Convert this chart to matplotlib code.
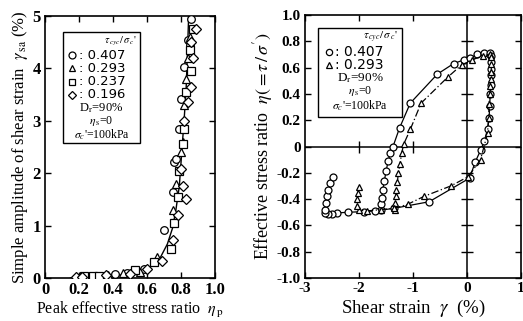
import matplotlib
matplotlib.use("Agg")
import matplotlib.pyplot as plt

plt.rcParams['font.family'] = ['Liberation Serif', 'DejaVu Serif']
plt.rcParams['mathtext.fontset'] = 'stix'

# ---------------- Left panel data ----------------
c407_x = [0.21, 0.26, 0.33, 0.41, 0.48, 0.58, 0.70, 0.74, 0.75, 0.76, 0.77, 0.79, 0.80, 0.82, 0.84, 0.86, 0.85]
c407_y = [0.02, 0.03, 0.04, 0.07, 0.10, 0.18, 0.92, 0.55, 1.65, 2.22, 2.27, 2.85, 3.42, 4.02, 4.55, 4.95, 4.45]
t293_x = [0.24, 0.30, 0.37, 0.46, 0.56, 0.66, 0.75, 0.77, 0.80, 0.82, 0.81, 0.83, 0.84, 0.855]
t293_y = [0.02, 0.03, 0.05, 0.10, 0.12, 0.40, 1.30, 1.80, 2.40, 3.30, 2.60, 3.80, 4.20, 4.60]
s237_x = [0.23, 0.28, 0.32, 0.53, 0.64, 0.74, 0.76, 0.78, 0.79, 0.81, 0.82, 0.83, 0.85, 0.87, 0.86]
s237_y = [0.03, 0.04, 0.04, 0.15, 0.30, 0.55, 1.05, 1.55, 2.05, 2.55, 2.85, 3.55, 4.35, 4.75, 3.95]
d196_x = [0.18, 0.22, 0.36, 0.50, 0.60, 0.69, 0.75, 0.78, 0.81, 0.80, 0.82, 0.84, 0.86, 0.87, 0.89, 0.86, 0.83]
d196_y = [0.02, 0.02, 0.06, 0.08, 0.18, 0.32, 0.72, 1.20, 1.75, 2.08, 3.00, 3.35, 3.65, 4.20, 4.75, 4.50, 1.50]
curve_x = [0.15, 0.30, 0.45, 0.55, 0.62, 0.68, 0.72, 0.75, 0.77, 0.79, 0.80, 0.81, 0.82, 0.83, 0.835, 0.84, 0.845]
curve_y = [0.00, 0.02, 0.06, 0.12, 0.22, 0.40, 0.65, 0.95, 1.30, 1.75, 2.20, 2.65, 3.10, 3.60, 4.05, 4.50, 5.00]

# ---------------- Right panel data ----------------
path407_x = [-1.60, -1.60, -1.58, -1.56, -1.53, -1.50, -1.46, -1.42, -1.37, -1.25, -1.05, -0.55, -0.25,
             -0.05, 0.05, 0.18, 0.32, 0.43, 0.45, 0.45, 0.45, 0.45, 0.44, 0.43, 0.42, 0.41, 0.38, 0.32,
             0.25, 0.15, 0.05, -0.70, -1.35, -1.70, -1.90, -2.20, -2.40, -2.50, -2.58, -2.63, -2.63,
             -2.62, -2.60, -2.57, -2.53, -2.48]
path407_y = [-0.48, -0.44, -0.39, -0.33, -0.26, -0.19, -0.11, -0.05, 0.00, 0.14, 0.33, 0.55, 0.63,
             0.66, 0.67, 0.70, 0.71, 0.71, 0.69, 0.64, 0.59, 0.54, 0.47, 0.40, 0.31, 0.22, 0.13, 0.04,
             -0.03, -0.12, -0.24, -0.42, -0.47, -0.49, -0.495, -0.50, -0.505, -0.51, -0.515, -0.505, -0.48,
             -0.43, -0.38, -0.33, -0.28, -0.23]
path293_x = [-1.34, -1.33, -1.32, -1.31, -1.29, -1.27, -1.24, -1.21, -1.17, -1.05, -0.85, -0.35, -0.10,
             0.10, 0.30, 0.43, 0.45, 0.45, 0.45, 0.44, 0.43, 0.42, 0.41, 0.40, 0.38, 0.25, 0.02, -0.30,
             -0.80, -1.10, -1.35, -1.60, -1.85, -2.00, -2.03, -2.03, -2.02, -2.00]
path293_y = [-0.48, -0.43, -0.38, -0.33, -0.27, -0.20, -0.13, -0.05, 0.02, 0.13, 0.33, 0.53, 0.62,
             0.66, 0.69, 0.70, 0.68, 0.63, 0.57, 0.51, 0.46, 0.40, 0.32, 0.22, 0.10, -0.10, -0.23, -0.30,
             -0.38, -0.44, -0.47, -0.48, -0.49, -0.485, -0.45, -0.40, -0.35, -0.31]

legend_markers = ['o', '^', 's', 'D']
legend_values = ['0.407', '0.293', '0.237', '0.196']
legend_extra = [r"D$_\mathrm{r}$=90%", r"$\eta_{\,\mathrm{s}}$=0", r"$\sigma_{c}$'=100kPa"]
legend_title = r"$\tau_{\,cyc}/\,\sigma_{\,c}$'"

fig = plt.figure(figsize=(5.23, 3.21), dpi=100)
sans = ['DejaVu Sans']

# ---------------- Left panel ----------------
ax1 = fig.add_axes([45/523, 1-278/321, 170/523, 262/321])
mk = dict(mfc='white', mec='black', mew=0.9, ms=5.5, ls='none')
ax1.plot(curve_x, curve_y, color='black', lw=1.0, zorder=2)
ax1.plot(c407_x, c407_y, marker='o', zorder=3, **mk)
ax1.plot(t293_x, t293_y, marker='^', zorder=3, **mk)
ax1.plot(s237_x, s237_y, marker='s', zorder=3, **mk)
ax1.plot(d196_x, d196_y, marker='D', zorder=3, **{**mk, 'ms': 5})
ax1.set_xlim(0, 1.0)
ax1.set_ylim(0, 5)
ax1.set_xticks([0, 0.2, 0.4, 0.6, 0.8, 1.0])
ax1.set_xticklabels(['0', '0.2', '0.4', '0.6', '0.8', '1.0'])
ax1.set_yticks([0, 1, 2, 3, 4, 5])
ax1.tick_params(direction='in', top=True, right=True, length=4, width=1.0,
                labelsize=12, pad=3)
for lab in ax1.get_xticklabels() + ax1.get_yticklabels():
    lab.set_fontweight('bold')
for s in ax1.spines.values():
    s.set_linewidth(1.2)
ax1.set_xlabel(r'Peak effective stress ratio  $\eta_{\,\mathrm{p}}$', fontsize=11.5, labelpad=1)
ax1.set_ylabel(r'Simple amplitude of shear strain  $\gamma_{\,\mathrm{sa}}$ (%)', fontsize=12, labelpad=2)

# legend box (left)
ax1.add_patch(plt.Rectangle((0.106, 0.515), 0.454, 0.424, transform=ax1.transAxes,
                            fill=True, fc='white', ec='black', lw=1.0, zorder=4))
ax1.text(0.54, 0.902, legend_title, transform=ax1.transAxes, ha='right', va='center',
         fontsize=7.5, zorder=5)
row_y1 = [0.851, 0.800, 0.750, 0.700]
for m, v, yy in zip(legend_markers, legend_values, row_y1):
    ax1.plot([0.16], [yy], marker=m, transform=ax1.transAxes, zorder=5, clip_on=False,
             mfc='white', mec='black', mew=0.9, ms=5 if m != 'D' else 4.5, ls='none')
    ax1.text(0.2, yy, ': ' + v, transform=ax1.transAxes, ha='left', va='center',
             fontsize=9.5, zorder=5, family=sans)
for t, yy in zip(legend_extra, [0.650, 0.600, 0.546]):
    ax1.text(0.333, yy, t, transform=ax1.transAxes, ha='center', va='center',
             fontsize=9 if '%' in t else 8.5, zorder=5)

# ---------------- Right panel ----------------
ax2 = fig.add_axes([305/523, 1-278/321, 216/523, 263/321])
ax2.axhline(0, color='black', lw=1.1, zorder=1)
ax2.axvline(0, color='black', lw=1.1, zorder=1)
ax2.plot([-2, -1], [0, 0], marker='|', color='black', ms=8, mew=1.0, ls='none', zorder=1)
yt_inner = [-0.8, -0.6, -0.4, -0.2, 0.2, 0.4, 0.6, 0.8]
ax2.plot([0] * len(yt_inner), yt_inner, marker='_', color='black', ms=8, mew=1.0, ls='none', zorder=1)
ax2.plot(path407_x, path407_y, color='black', lw=0.9, marker='o', mfc='white', mec='black',
         mew=0.9, ms=5, zorder=3)
ax2.plot(path293_x, path293_y, color='black', lw=0.9, ls=(0, (6, 2, 1, 2)), marker='^', mfc='white',
         mec='black', mew=0.9, ms=5, zorder=3)
ax2.set_xlim(-3, 1)
ax2.set_ylim(-1.0, 1.0)
ax2.set_xticks([-3, -2, -1, 0, 1])
ax2.set_xticklabels(['-3', '-2', '-1', '0', '1'])
yt = [-1.0, -0.8, -0.6, -0.4, -0.2, 0, 0.2, 0.4, 0.6, 0.8, 1.0]
ax2.set_yticks(yt)
ax2.set_yticklabels(['-1.0', '-0.8', '-0.6', '-0.4', '-0.2', '0', '0.2', '0.4', '0.6', '0.8', '1.0'])
ax2.tick_params(direction='in', top=True, right=True, length=4, width=1.0, labelsize=11, pad=3)
for lab in ax2.get_xticklabels() + ax2.get_yticklabels():
    lab.set_fontweight('bold')
for s in ax2.spines.values():
    s.set_linewidth(1.2)
ax2.set_xlabel(r'Shear strain  $\gamma$  (%)', fontsize=13.5, labelpad=2)
ax2.set_ylabel(r"Effective stress ratio  $\eta(=\tau\,/\,\sigma')$", fontsize=13, labelpad=1)

# legend box (right)
ax2.add_patch(plt.Rectangle((0.06, 0.612), 0.389, 0.339, transform=ax2.transAxes,
                            fill=True, fc='white', ec='black', lw=1.0, zorder=4))
ax2.text(0.43, 0.913, legend_title, transform=ax2.transAxes, ha='right', va='center',
         fontsize=8, zorder=5)
for m, v, yy in zip(legend_markers[:2], legend_values[:2], [0.861, 0.809]):
    ax2.plot([0.11], [yy], marker=m, transform=ax2.transAxes, zorder=5, clip_on=False,
             mfc='white', mec='black', mew=0.9, ms=4.5, ls='none')
    ax2.text(0.14, yy, ': ' + v, transform=ax2.transAxes, ha='left', va='center',
             fontsize=10, zorder=5, family=sans)
for t, yy in zip(legend_extra, [0.760, 0.710, 0.655]):
    ax2.text(0.255, yy, t, transform=ax2.transAxes, ha='center', va='center',
             fontsize=9.5 if '%' in t else 8.5, zorder=5)

fig.savefig('out.png', dpi=100)
